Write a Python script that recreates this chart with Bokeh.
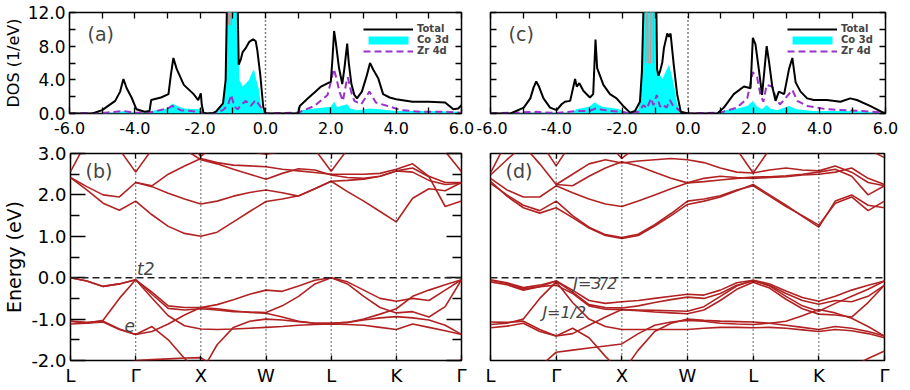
from bokeh.plotting import figure
from bokeh.models import (LinearAxis, FixedTicker, Span, Label, Legend, LegendItem,
                          PrintfTickFormatter, CustomLabelingPolicy)
from bokeh.layouts import column, row
from bokeh.embed import file_html
from bokeh.resources import INLINE

nan = float("nan")
FONT = "DejaVu Sans"
RED = "#b22222"
CYAN = "#00ffff"
PURPLE = "#9932cc"
ROSY = "#c49494"

# ---------------- DOS panel (a) ----------------
A_TOT_E = [-6.0, -5.3, -5.0, -4.6, -4.45, -4.35, -4.25, -4.1, -3.95, -3.7, -3.55, -3.5, -3.2, -2.97, -2.9, -2.82,
           -2.72, -2.5, -2.2, -2.06, -1.98, -1.95, -1.9, -1.8, -1.6, -1.5, -1.3, -1.22, -1.18, -1.1, -1.0, -0.9,
           -0.85, -0.82, -0.75, -0.7, -0.6, -0.5, -0.38, -0.3, -0.25, -0.16, -0.07, 0.0, 1.0, 1.05, 1.3, 1.5,
           1.7, 1.85, 2.0, 2.05, 2.1, 2.15, 2.25, 2.35, 2.42, 2.5, 2.55, 2.63, 2.72, 2.8, 2.95, 3.1, 3.2, 3.3,
           3.45, 3.6, 3.8, 4.0, 4.5, 5.0, 5.5, 5.75, 5.9, 6.0]
A_TOT = [0, 0, 0.4, 1.5, 2.6, 4.1, 3.0, 1.9, 0.5, 0.2, 0.3, 1.6, 1.9, 2.3, 4.5, 6.6, 5.3, 3.4, 2.3, 1.6,
         2.4, 1.0, 0.1, 0, 0.05, 0.3, 1.2, 4.0, 13, 14, 14, 14, 12.5, 5.8, 6.5, 7.3, 7.8, 8.5, 8.8, 8.6,
         7.5, 4.6, 0.8, 0, 0, 0.9, 1.8, 2.5, 3.2, 3.5, 3.8, 6.5, 9.8, 8.5, 5.4, 3.5, 5.5, 8.3, 6.0, 3.5,
         2.2, 1.8, 2.6, 4.5, 6.0, 5.2, 4.2, 2.3, 1.9, 1.7, 1.4, 1.4, 1.3, 0.5, 0.6, 1.0]
A_CO_E = [-6.0, -5.2, -4.5, -4.35, -4.0, -3.6, -3.5, -3.0, -2.85, -2.7, -2.5, -2.06, -1.98, -1.92, -1.8, -1.5,
          -1.3, -1.22, -1.18, -0.85, -0.8, -0.7, -0.6, -0.5, -0.4, -0.35, -0.27, -0.2, -0.13, -0.05, 0.0, 1.0,
          1.1, 1.5, 2.0, 2.1, 2.2, 2.3, 2.5, 2.6, 2.8, 3.2, 3.5, 4.0, 5.0, 5.9, 6.0]
A_CO = [0, 0, 0.15, 0.3, 0.1, 0.05, 0.3, 0.6, 1.2, 0.9, 0.6, 0.5, 0.7, 0.1, 0, 0.2, 1.0, 3.5, 13, 13,
        4.0, 3.2, 3.6, 4.0, 5.0, 5.2, 3.8, 2.8, 0.8, 0.1, 0, 0, 0.4, 0.6, 0.8, 1.4, 0.7, 0.9, 1.1, 0.6,
        0.4, 0.6, 0.5, 0.3, 0.3, 0.2, 0]
A_ZR_E = [-6.0, -5.0, -4.35, -4.0, -3.5, -3.0, -2.85, -2.6, -2.0, -1.9, -1.6, -1.3, -1.15, -1.05, -0.95, -0.85,
          -0.75, -0.6, -0.45, -0.3, -0.15, 0.0, 1.0, 1.5, 1.9, 2.0, 2.09, 2.17, 2.27, 2.37, 2.47, 2.52, 2.62,
          2.72, 2.93, 3.18, 3.38, 3.74, 4.14, 4.75, 5.5, 6.0]
A_ZR = [0, 0.05, 0.3, 0.1, 0.15, 0.6, 0.9, 0.4, 0.2, 0.05, 0, 0.4, 1.0, 2.2, 0.8, 0.5, 1.0, 1.5, 0.9, 1.6,
        0.8, 0, 0.1, 0.9, 2.2, 3.8, 5.3, 4.2, 2.5, 1.5, 3.6, 4.3, 2.6, 1.5, 1.1, 2.6, 1.3, 0.9, 0.4, 0.2,
        0.2, 0.1]
A_PK_E = [-1.14, -1.12, -1.10, -1.06, -1.04]
A_PK = [10.5, 14.0, 10.5, 14.0, 10.5]

# ---------------- DOS panel (c) ----------------
C_TOT_E = [-6.0, -5.39, -4.99, -4.79, -4.69, -4.61, -4.54, -4.39, -4.19, -3.99, -3.84, -3.74, -3.58, -3.43,
           -3.38, -3.3, -3.18, -2.98, -2.88, -2.81, -2.76, -2.57, -2.37, -2.17, -1.97, -1.76, -1.61, -1.46,
           -1.4, -1.35, -1.2, -1.0, -0.96, -0.94, -0.9, -0.85, -0.78, -0.73, -0.63, -0.58, -0.53, -0.43, -0.33,
           -0.22, 0.0, 0.89, 1.09, 1.39, 1.7, 1.9, 1.97, 2.05, 2.15, 2.25, 2.39, 2.46, 2.56, 2.66, 2.76, 2.92,
           3.07, 3.17, 3.27, 3.42, 3.62, 3.82, 4.22, 4.63, 4.93, 5.13, 5.53, 5.93, 6.0]
C_TOT = [0, 0, 0.7, 1.8, 3.1, 3.8, 3.3, 1.8, 0.7, 0.4, 1.1, 1.4, 1.5, 4.1, 3.2, 3.6, 2.7, 1.9, 2.3, 8.8,
         5.4, 3.4, 2.3, 1.8, 0.9, 0.1, 0.3, 1.4, 5.0, 13, 14, 14, 12.5, 5.3, 4.5, 5.0, 6.1, 7.8, 9.5, 9.1,
         9.5, 5.7, 2.3, 0.2, 0, 0, 0.7, 2.3, 3.2, 3.0, 9.0, 8.2, 5.3, 2.2, 8.0, 6.2, 3.2, 1.5, 2.6, 2.3,
         5.3, 6.6, 3.7, 2.6, 1.8, 1.6, 1.6, 1.4, 1.8, 1.6, 0.9, 0.1, 0.1]
C_CO_E = [-6.0, -4.6, -3.5, -3.4, -3.0, -2.85, -2.6, -2.2, -2.0, -1.76, -1.5, -1.42, -1.36, -1.0, -0.96, -0.93,
          -0.85, -0.78, -0.65, -0.58, -0.48, -0.4, -0.33, -0.22, 0.0, 0.89, 1.1, 1.5, 1.8, 1.97, 2.1, 2.25,
          2.39, 2.5, 2.7, 3.07, 3.3, 3.8, 5.0, 5.9, 6.0]
C_CO = [0, 0.1, 0.1, 0.5, 0.8, 1.3, 0.8, 0.6, 0.4, 0, 0.5, 3.0, 13, 13, 8.0, 5.3, 4.6, 4.1, 5.2, 5.8,
        4.3, 2.8, 1.2, 0, 0, 0, 0.4, 0.6, 0.9, 1.5, 0.8, 0.5, 1.0, 0.6, 0.4, 0.9, 0.5, 0.3, 0.3, 0.1, 0]
C_ZR_E = [-6.0, -4.6, -4.0, -3.4, -3.0, -2.8, -2.4, -2.0, -1.76, -1.5, -1.35, -1.25, -1.12, -1.05, -0.95, -0.85,
          -0.78, -0.65, -0.55, -0.45, -0.33, -0.2, 0.0, 0.99, 1.49, 1.8, 1.97, 2.1, 2.2, 2.29, 2.39, 2.56,
          2.7, 2.8, 3.0, 3.17, 3.32, 3.62, 4.22, 5.23, 6.0]
C_ZR = [0, 0.2, 0.05, 0.3, 0.3, 0.6, 0.3, 0.2, 0, 0.2, 1.0, 0.6, 1.8, 1.0, 2.2, 0.8, 1.1, 0.7, 1.6, 0.9,
        0.6, 0.1, 0, 0.1, 0.7, 1.8, 4.9, 4.3, 2.2, 1.4, 3.4, 3.2, 1.5, 1.1, 2.0, 2.8, 1.5, 0.9, 0.5, 0.3, 0.1]
C_PK_E = [-1.28, -1.26, -1.23, -1.21, -1.14, -1.12, -1.06, -1.05]
C_PK = [6.0, 14.0, 14.0, 6.0, 6.0, 14.0, 14.0, 6.0]

# ---------------- band structure path ----------------
KPOS = [0, 1, 2, 3, 4, 5, 6]
KLABELS = ["L", "Γ", "X", "W", "L", "K", "Γ"]
KPATH = [0.0, 0.25, 0.5, 0.75, 1.0, 1.25, 1.5, 1.75, 2.0, 2.25, 2.5, 2.75, 3.0, 3.25, 3.5, 3.75,
         4.0, 4.25, 4.5, 4.75, 5.0, 5.25, 5.5, 5.75, 6.0]

# panel (b): without spin-orbit
B_V1 = [0.0, -0.08, -0.21, -0.15, -0.05, -0.35, -0.68, -0.72, -0.72, -0.65, -0.53, -0.40, -0.30,
        -0.33, -0.20, -0.06, 0.0, -0.10, -0.30, -0.50, -0.57, -0.50, -0.55, -0.30, -0.05]
B_V2 = [0.0, -0.08, -0.21, -0.15, -0.05, -0.40, -0.74, -0.78, -0.75, -0.78, -0.82, -0.83, -0.84,
        -0.68, -0.45, -0.15, 0.0, -0.15, -0.45, -0.72, -0.85, -0.82, -0.95, -0.70, -0.05]
B_V3 = [-1.12, -1.10, -1.03, -0.50, -0.05, -0.49, -0.92, -1.16, -1.24, -1.25, -1.24, -1.22, -1.20,
        -1.18, -1.15, -1.13, -1.12, -1.13, -1.15, -1.20, -1.25, -1.12, -1.20, -1.28, -1.37]
B_V4 = [-1.05, -1.08, -1.05, -1.24, -1.37, -1.30, -1.12, -0.90, -0.72, -0.75, -0.80, -0.84, -0.86,
        -0.95, -1.05, -1.10, -1.10, -1.08, -1.00, -0.88, -0.75, -0.45, -0.30, -0.17, -0.05]
B_V5 = [-1.05, -1.10, -1.07, -1.25, -1.37, -1.18, -1.50, -1.95, -2.30, -1.62, -1.20, -1.05, -1.00,
        -1.02, -1.06, -1.10, -1.10, -1.08, -1.02, -0.97, -0.94, -0.97, -1.02, -1.15, -1.37]
B_V6 = [nan, nan, nan, -2.15, -2.00, -1.98, -1.96, -1.94, -1.93, -2.20, nan, nan, nan,
        nan, nan, nan, nan, nan, nan, nan, nan, nan, -2.40, -2.15, -1.98]
B_C1 = [2.42, 2.12, 1.80, 1.63, 1.85, 1.52, 1.24, 1.07, 1.00, 1.10, 1.35, 1.60, 1.84,
        1.90, 1.98, 2.15, 2.33, 2.08, 1.85, 1.60, 1.35, 1.92, 2.15, 2.10, 2.30]
B_C2 = [2.42, 2.20, 2.00, 1.95, 2.30, 2.20, 2.04, 1.90, 1.78, 1.85, 1.97, 2.06, 2.12,
        2.05, 1.97, 2.15, 2.33, 2.35, 2.38, 2.45, 2.58, 2.65, 2.44, 1.72, 1.85]
B_C3 = [2.56, 3.30, 3.70, 3.10, 2.55, 3.10, 3.60, 3.40, 2.93, 3.25, 3.20, 3.05, 2.98,
        3.05, 3.30, 3.10, 2.57, 3.10, 3.30, 3.20, 3.10, 3.40, 3.50, 3.05, 2.56]
B_C4 = [nan, nan, nan, nan, 2.30, 2.22, 2.50, 2.70, 2.88, 2.78, 2.72, 2.70, 2.68,
        2.62, 2.58, 2.54, 2.50, 2.50, 2.50, 2.52, 2.62, 2.75, 2.45, 2.30, 2.30]
B_C5 = [nan, nan, nan, nan, nan, nan, nan, 3.10, 2.85, 2.75, 2.62, 2.50, 2.38,
        2.52, 2.63, 2.60, 2.48, 2.42, 2.40, 2.45, 2.58, 2.55, 2.35, 2.25, 2.28]
B_BANDS = [B_V1, B_V2, B_V3, B_V4, B_V5, B_V6, B_C1, B_C2, B_C3, B_C4, B_C5]

# panel (d): with spin-orbit
D_V1 = [-0.05, -0.12, -0.24, -0.18, -0.08, -0.30, -0.55, -0.62, -0.58, -0.55, -0.50, -0.45, -0.40,
        -0.42, -0.30, -0.12, -0.06, -0.15, -0.32, -0.48, -0.57, -0.45, -0.30, -0.18, -0.08]
D_V2 = [-0.10, -0.17, -0.30, -0.22, -0.08, -0.35, -0.65, -0.72, -0.73, -0.68, -0.60, -0.53, -0.47,
        -0.50, -0.38, -0.18, -0.08, -0.18, -0.38, -0.55, -0.64, -0.55, -0.58, -0.45, -0.18]
D_V3 = [-1.13, -1.10, -1.00, -0.50, -0.10, -0.60, -1.00, -1.18, -1.25, -1.25, -1.25, -1.25, -1.25,
        -1.22, -1.20, -1.20, -1.21, -1.20, -1.22, -1.26, -1.30, -1.25, -1.28, -1.35, -1.45]
D_V4 = [-1.07, -1.08, -1.05, -1.25, -1.41, -1.35, -1.15, -0.95, -0.77, -0.78, -0.79, -0.80, -0.81,
        -0.70, -0.45, -0.20, -0.06, -0.20, -0.45, -0.68, -0.81, -0.62, -0.45, -0.28, -0.08]
D_V5 = [-1.21, -1.17, -1.10, -1.30, -1.41, -1.22, -1.45, -1.90, -2.30, -1.75, -1.30, -1.10, -1.00,
        -1.03, -1.05, -1.06, -1.07, -1.10, -1.15, -1.20, -1.25, -1.18, -1.22, -1.30, -1.41]
D_V6 = [-0.06, -0.14, -0.27, -0.22, -0.18, -0.38, -0.68, -0.76, -0.77, -0.80, -0.83, -0.85, -0.87,
        -0.78, -0.55, -0.28, -0.11, -0.25, -0.52, -0.75, -0.88, -0.90, -0.95, -0.60, -0.18]
D_V7 = [nan, nan, nan, -2.15, -1.80, -1.75, -1.70, -1.65, -1.60, -1.35, -1.15, -1.07, -1.03,
        -1.05, -1.10, -1.12, -1.13, -1.10, -1.05, -0.92, -0.77, -0.85, -0.98, -1.18, -1.41]
D_V8 = [nan, nan, nan, nan, nan, nan, nan, nan, nan, nan, nan, nan, nan,
        nan, nan, nan, nan, nan, nan, nan, nan, -2.40, -2.15, -1.95, -1.77]
D_C1 = [2.33, 1.97, 1.69, 1.56, 1.69, 1.45, 1.20, 1.02, 0.95, 1.02, 1.25, 1.50, 1.77,
        1.85, 1.95, 2.10, 2.25, 2.00, 1.75, 1.48, 1.22, 1.85, 2.00, 1.75, 1.69]
D_C2 = [2.28, 2.00, 1.75, 1.62, 1.85, 1.50, 1.22, 1.04, 0.97, 1.05, 1.28, 1.55, 1.85,
        1.90, 1.98, 2.12, 2.22, 1.97, 1.72, 1.50, 1.27, 1.80, 1.95, 1.62, 1.85]
D_C3 = [2.40, 2.12, 1.95, 1.95, 2.22, 2.05, 1.90, 1.78, 1.72, 1.85, 2.00, 2.15, 2.29,
        2.32, 2.36, 2.40, 2.43, 2.44, 2.46, 2.50, 2.55, 2.62, 2.45, 2.00, 2.22]
D_C4 = [nan, nan, nan, nan, 2.25, 2.22, 2.45, 2.65, 2.80, 2.70, 2.55, 2.40, 2.29,
        2.40, 2.45, 2.42, 2.40, 2.42, 2.44, 2.48, 2.50, 2.55, 2.65, 2.40, 2.25]
D_C5 = [2.48, 2.85, 3.20, 2.75, 2.25, 2.50, 2.75, 2.85, 2.77, 2.82, 2.85, 2.88, 2.85,
        2.78, 2.65, 2.55, 2.53, 2.60, 2.65, 2.60, 2.58, 2.70, 2.55, 2.30, 2.22]
D_C6 = [2.53, 3.30, 3.70, 3.30, 2.70, 3.30, 3.70, 3.30, 2.88, 3.20, 3.50, 3.20, 3.00,
        3.10, 3.30, 3.10, 2.53, 3.10, 3.40, 3.30, 3.00, 3.30, 3.40, 3.10, 2.90]
D_BANDS = [D_V1, D_V2, D_V3, D_V4, D_V5, D_V6, D_V7, D_V8, D_C1, D_C2, D_C3, D_C4, D_C5, D_C6]

HIDE_LABELS = "for (const i of indices) { indices.unset(i) }\nreturn indices"


def style_axis(ax, label_px, tick_in, minor_in):
    ax.axis_line_color = None
    ax.major_tick_in = tick_in
    ax.major_tick_out = 0
    ax.minor_tick_in = minor_in
    ax.minor_tick_out = 0
    ax.major_tick_line_color = "black"
    ax.minor_tick_line_color = "black"
    ax.major_tick_line_width = 1.3
    ax.minor_tick_line_width = 1.3
    ax.major_label_text_font = FONT
    ax.major_label_text_font_size = f"{label_px}px"
    ax.major_label_text_color = "black"
    ax.axis_label_text_font = FONT
    ax.axis_label_text_font_style = "normal"
    ax.axis_label_text_color = "black"


def mirror_axis(ticker, tick_in, minor_in):
    ax = LinearAxis(ticker=ticker, major_label_policy=CustomLabelingPolicy(code=HIDE_LABELS))
    style_axis(ax, 1, tick_in, minor_in)
    ax.major_label_standoff = 0
    return ax


def base_fig(width, height, xr, yr, left, right, top, bottom):
    p = figure(width=width, height=height, x_range=xr, y_range=yr, output_backend="svg",
               toolbar_location=None, min_border_left=left, min_border_right=right,
               min_border_top=top, min_border_bottom=bottom, x_axis_location=None,
               y_axis_location=None)
    p.grid.visible = False
    p.outline_line_color = "black"
    p.outline_line_width = 1.5
    p.background_fill_color = "white"
    p.border_fill_color = "white"
    return p


def make_dos(tag, tot_e, tot, co_e, co, zr_e, zr, pk_e, pk, show_ylab, width, left, right, leg_x):
    p = base_fig(width, 140, (-6, 6), (0, 12), left, right, 12, 27)
    r_co = p.varea(x=co_e, y1=0, y2=co, fill_color=CYAN, fill_alpha=1.0)
    p.line(pk_e, pk, line_color=ROSY, line_width=1.2)
    r_zr = p.line(zr_e, zr, line_color=PURPLE, line_width=2, line_dash="7 4")
    r_tot = p.line(tot_e, tot, line_color="black", line_width=2)
    p.add_layout(Span(location=0, dimension="height", line_color="black",
                      line_dash="1 3", line_width=1.5))
    xt = FixedTicker(ticks=[-6, -4, -2, 0, 2, 4, 6], minor_ticks=[-5, -3, -1, 1, 3, 5])
    yt = FixedTicker(ticks=[0, 4, 8, 12], minor_ticks=[2, 6, 10])
    bottom = LinearAxis(ticker=xt, formatter=PrintfTickFormatter(format="%.1f"))
    style_axis(bottom, 16, 6, 6)
    bottom.major_label_standoff = 8
    p.add_layout(bottom, "below")
    p.add_layout(mirror_axis(xt, 6, 6), "above")
    if show_ylab:
        leftax = LinearAxis(ticker=yt, formatter=PrintfTickFormatter(format="%.1f"))
        style_axis(leftax, 17, 6, 6)
        leftax.major_label_standoff = 4
        leftax.axis_label = "DOS (1/eV)"
        leftax.axis_label_text_font_size = "16px"
        leftax.axis_label_standoff = 2
    else:
        leftax = mirror_axis(yt, 6, 6)
    p.add_layout(leftax, "left")
    p.add_layout(mirror_axis(yt, 6, 6), "right")
    legend = Legend(items=[LegendItem(label="Total", renderers=[r_tot]),
                           LegendItem(label="Co 3d", renderers=[r_co]),
                           LegendItem(label="Zr 4d", renderers=[r_zr])],
                    location=(leg_x, 57))
    legend.background_fill_alpha = 0
    legend.border_line_color = None
    legend.glyph_width = 50
    legend.glyph_height = 10
    legend.label_height = 10
    legend.label_text_font = FONT
    legend.label_text_font_size = "10px"
    legend.label_text_font_style = "bold"
    legend.label_standoff = 4
    legend.spacing = 0
    legend.padding = 0
    legend.margin = 0
    p.add_layout(legend)
    p.add_layout(Label(x=-5.45, y=9.4, text=tag, text_font=FONT, text_font_size="19px",
                       text_baseline="middle"))
    return p


def make_bands(tag, bands, width, left, right, top, bottom_b, yticks):
    p = base_fig(width, 250, (0, 6), (-2, 3), left, right, top, bottom_b)
    for k in KPOS[1:-1]:
        p.add_layout(Span(location=k, dimension="height", line_color="black",
                          line_dash="1 3", line_width=1.2))
    p.add_layout(Span(location=0, dimension="width", line_color="#222222",
                      line_dash="7 4", line_width=1.5))
    for b in bands:
        p.line(KPATH, b, line_color=RED, line_width=1.6)
    xt = FixedTicker(ticks=KPOS)
    bottom = LinearAxis(ticker=xt)
    style_axis(bottom, 18, 5, 0)
    bottom.major_label_overrides = {i: lab for i, lab in zip(KPOS, KLABELS)}
    bottom.major_label_standoff = 4
    p.add_layout(bottom, "below")
    p.add_layout(mirror_axis(xt, 5, 0), "above")
    if yticks:
        yt = FixedTicker(ticks=[-2, -1, 0, 1, 2, 3], minor_ticks=[-1.5, -0.5, 0.5, 1.5, 2.5])
        leftax = LinearAxis(ticker=yt, formatter=PrintfTickFormatter(format="%.1f"))
        style_axis(leftax, 18, 15, 9)
        leftax.major_label_standoff = 4
        leftax.axis_label = "Energy (eV)"
        leftax.axis_label_text_font_size = "19px"
        leftax.axis_label_standoff = 3
        p.add_layout(leftax, "left")
        p.add_layout(mirror_axis(yt, 15, 9), "right")
    p.add_layout(Label(x=0.23, y=2.58, text=tag, text_font=FONT, text_font_size="19px",
                       text_baseline="middle"))
    return p


pa = make_dos("(a)", A_TOT_E, A_TOT, A_CO_E, A_CO, A_ZR_E, A_ZR, A_PK_E, A_PK, True, 476, 65, 15, 294)
pc = make_dos("(c)", C_TOT_E, C_TOT, C_CO_E, C_CO, C_ZR_E, C_ZR, C_PK_E, C_PK, False, 434, 14, 25, 297)
pb = make_bands("(b)", B_BANDS, 476, 65, 15, 11, 30, True)
pd = make_bands("(d)", D_BANDS, 434, 14, 26, 13, 27, False)

pb.add_layout(Label(x=1.02, y=0.22, text="t2", text_font=FONT, text_font_size="17px",
                    text_font_style="italic", text_baseline="middle"))
pb.add_layout(Label(x=0.83, y=-1.16, text="e", text_font=FONT, text_font_size="17px",
                    text_font_style="italic", text_baseline="middle"))
pd.add_layout(Label(x=1.26, y=-0.14, text="J=3/2", text_font=FONT, text_font_size="16px",
                    text_font_style="italic", text_baseline="middle"))
pd.add_layout(Label(x=0.79, y=-0.85, text="J=1/2", text_font=FONT, text_font_size="16px",
                    text_font_style="italic", text_baseline="middle"))

layout = column(row(pa, pc), row(pb, pd))
open("out.html", "w").write(file_html(layout, INLINE))
